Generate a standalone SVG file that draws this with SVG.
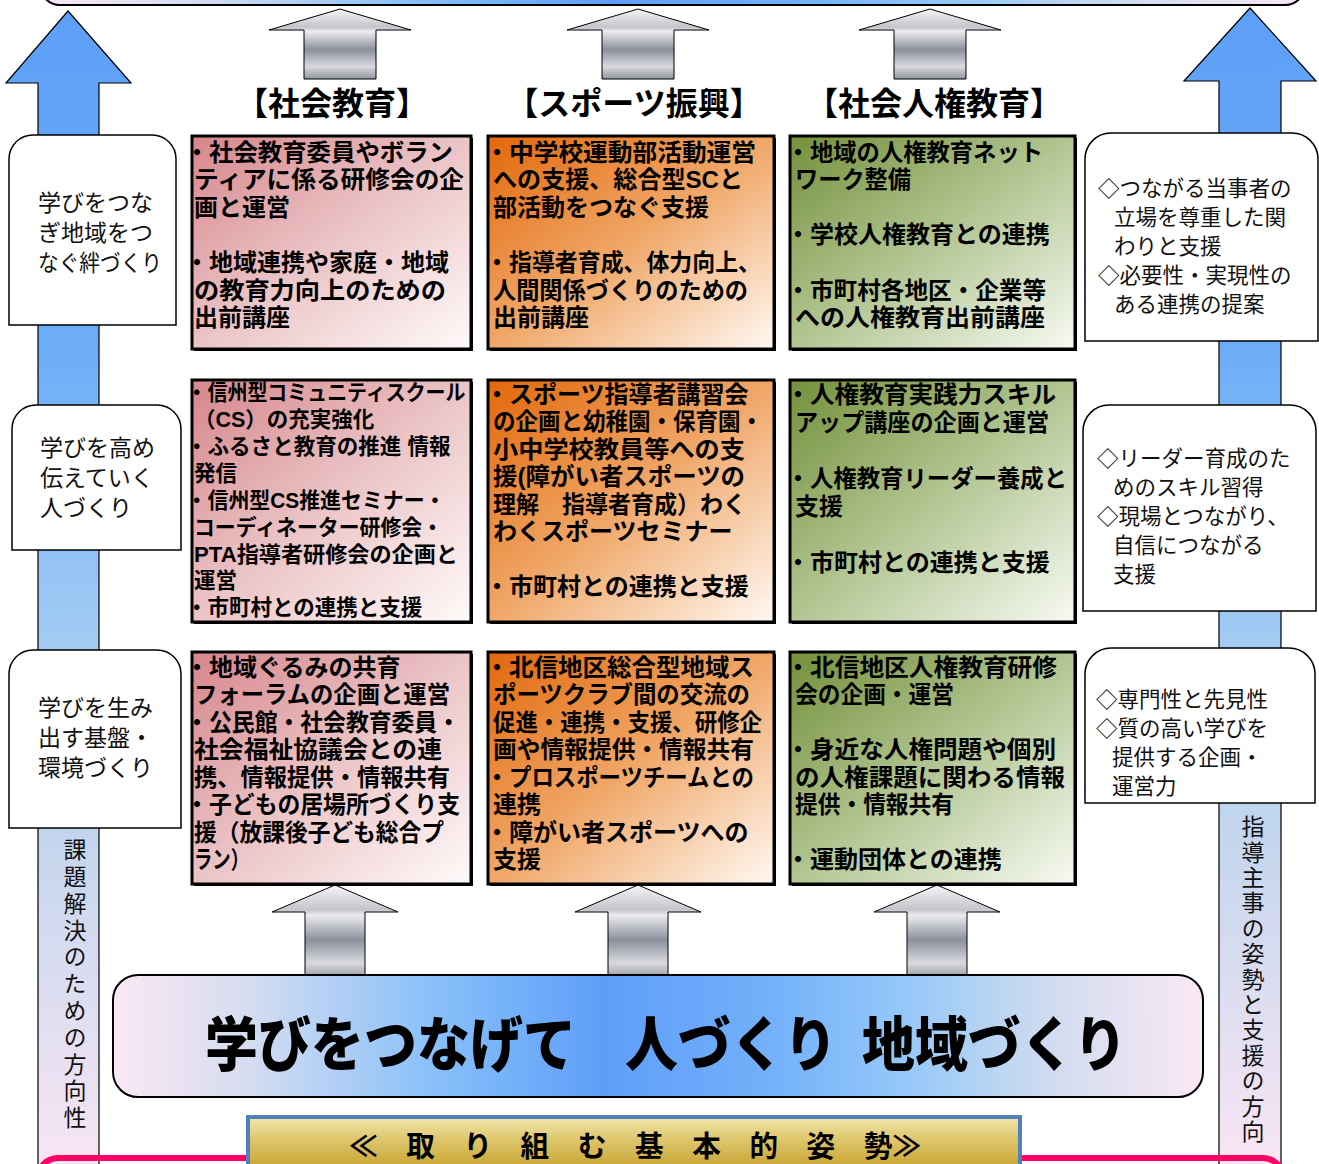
<svg xmlns="http://www.w3.org/2000/svg" width="1319" height="1164" viewBox="0 0 1319 1164">
<defs>
<style>
.t{font-family:"Liberation Sans","Noto Sans CJK JP","Noto Sans CJK SC",sans-serif;font-weight:700;font-size:24px;fill:#000}
.t2{font-family:"Liberation Sans","Noto Sans CJK JP","Noto Sans CJK SC",sans-serif;font-weight:700;font-size:21.5px;fill:#000}
.s{font-family:"Liberation Sans","Noto Sans CJK JP","Noto Sans CJK SC",sans-serif;font-weight:400;font-size:23px;fill:#111}
.r{font-family:"Liberation Sans","Noto Sans CJK JP","Noto Sans CJK SC",sans-serif;font-weight:400;font-size:21.5px;fill:#111}
.h{font-family:"Noto Sans CJK JP","Noto Sans CJK SC",sans-serif;font-weight:700;font-size:32px;fill:#000}
.side{fill:#fff;stroke:#000;stroke-width:1.5}
.bx{stroke:#000;stroke-width:3}
.sh{fill:#000}
.ga{stroke:#000;stroke-width:1;fill:url(#gGray)}
.ba{stroke:#000;stroke-width:1.2;fill:url(#gShaft)}
</style>
<linearGradient id="gPink" x1="0" y1="0" x2="1" y2="1">
<stop offset="0" stop-color="#d6868b"/><stop offset="0.5" stop-color="#ebc4c6"/><stop offset="1" stop-color="#fffafa"/>
</linearGradient>
<linearGradient id="gOrange" x1="0" y1="0" x2="1" y2="1">
<stop offset="0" stop-color="#e2680a"/><stop offset="0.5" stop-color="#f0a768"/><stop offset="1" stop-color="#fff9f3"/>
</linearGradient>
<linearGradient id="gGreen" x1="0" y1="0" x2="1" y2="1">
<stop offset="0" stop-color="#73903a"/><stop offset="0.5" stop-color="#b2c592"/><stop offset="1" stop-color="#f8faf3"/>
</linearGradient>
<linearGradient id="gBlueH" x1="0" y1="0" x2="1" y2="0">
<stop offset="0" stop-color="#fbe8f4"/><stop offset="0.12" stop-color="#d6ddf0"/><stop offset="0.3" stop-color="#86bffa"/><stop offset="0.45" stop-color="#5e9ef8"/><stop offset="0.6" stop-color="#72b0fa"/><stop offset="0.72" stop-color="#92c7f9"/><stop offset="0.86" stop-color="#d0dcef"/><stop offset="1" stop-color="#fbe8f4"/>
</linearGradient>
<linearGradient id="gShaft" gradientUnits="userSpaceOnUse" x1="0" y1="8" x2="0" y2="1164">
<stop offset="0" stop-color="#5d9ff7"/><stop offset="0.3" stop-color="#6eaef8"/><stop offset="0.55" stop-color="#a3cbf3"/><stop offset="0.72" stop-color="#c4d6ee"/><stop offset="0.88" stop-color="#e2dff1"/><stop offset="1" stop-color="#f8e5f3"/>
</linearGradient>
<linearGradient id="gGray" x1="0" y1="0" x2="0" y2="1">
<stop offset="0" stop-color="#f6f6f8"/><stop offset="0.26" stop-color="#c4c5cb"/><stop offset="0.32" stop-color="#ececef"/><stop offset="0.58" stop-color="#8b909c"/><stop offset="0.82" stop-color="#d9dadf"/><stop offset="1" stop-color="#92959f"/>
</linearGradient>
<linearGradient id="gGold" x1="0" y1="0" x2="0" y2="1">
<stop offset="0" stop-color="#f2e6b0"/><stop offset="0.3" stop-color="#e0c870"/><stop offset="0.7" stop-color="#c9a636"/><stop offset="1" stop-color="#d8bc55"/>
</linearGradient>
</defs>
<rect width="1319" height="1164" fill="#fff"/>

<g id="top-box">
<rect x="40" y="-60" width="1265" height="65" rx="20" fill="url(#gBlueH)" stroke="#000" stroke-width="2"/>
</g>

<g id="connectors">
<path class="ba" d="M68,11 L131,83 L99,83 L99,1170 L38,1170 L38,83 L6,83 Z"/>
<path class="ba" d="M1250,8 L1316,81 L1281,81 L1281,1170 L1219,1170 L1219,81 L1184,81 Z"/>
<path class="ga" d="M340,9 L411,30 L376,30 L376,79 L304,79 L304,30 L269,30 Z"/>
<path class="ga" d="M638,9 L709,30 L674,30 L674,79 L602,79 L602,30 L567,30 Z"/>
<path class="ga" d="M930,9 L1001,30 L966,30 L966,79 L894,79 L894,30 L859,30 Z"/>
<path class="ga" d="M335,885 L398,912 L365,912 L365,980 L305,980 L305,912 L272,912 Z"/>
<path class="ga" d="M638,885 L701,912 L668,912 L668,980 L608,980 L608,912 L575,912 Z"/>
<path class="ga" d="M937,885 L1000,912 L967,912 L967,980 L907,980 L907,912 L874,912 Z"/>
</g>

<g id="bottom-frame">
<rect x="38" y="1158" width="1245" height="40" rx="20" fill="none" stroke="#ff0066" stroke-width="6"/>
</g>

<g id="left-axis-label">
<text class="s" x="73" y="838" style="writing-mode:vertical-rl" letter-spacing="3.8">課題解決のための方向性</text>
</g>
<g id="right-axis-label">
<text class="s" x="1251" y="815" style="writing-mode:vertical-rl" letter-spacing="2.4">指導主事の姿勢と支援の方向</text>
</g>

<g id="hdr-1"><text class="h" x="332" y="115" text-anchor="middle">【社会教育】</text></g>
<g id="hdr-2"><text class="h" x="634" y="115" text-anchor="middle">【スポーツ振興】</text></g>
<g id="hdr-3"><text class="h" x="934" y="115" text-anchor="middle">【社会人権教育】</text></g>

<g id="left-1">
<path class="side" d="M9,325 V159 A24,24 0 0 1 33,135 H152 A24,24 0 0 1 176,159 V325 Z"/>
<text class="s"><tspan x="38" y="211">学びをつな</tspan><tspan x="38" y="241">ぎ地域をつ</tspan><tspan x="38" y="271" textLength="124" lengthAdjust="spacingAndGlyphs">なぐ絆づくり</tspan></text>
</g>
<g id="left-2">
<path class="side" d="M12,550 V429 A24,24 0 0 1 36,405 H157 A24,24 0 0 1 181,429 V550 Z"/>
<text class="s"><tspan x="40" y="456">学びを高め</tspan><tspan x="40" y="486">伝えていく</tspan><tspan x="40" y="516">人づくり</tspan></text>
</g>
<g id="left-3">
<path class="side" d="M9,828 V674 A24,24 0 0 1 33,650 H157 A24,24 0 0 1 181,674 V828 Z"/>
<text class="s"><tspan x="38" y="716">学びを生み</tspan><tspan x="38" y="746">出す基盤・</tspan><tspan x="38" y="776">環境づくり</tspan></text>
</g>

<g id="right-1">
<path class="side" d="M1085,341 V159 A26,26 0 0 1 1111,133 H1292 A26,26 0 0 1 1318,159 V341 Z"/>
<text class="r"><tspan x="1098" y="196">◇つながる当事者の</tspan><tspan x="1114" y="225">立場を尊重した関</tspan><tspan x="1114" y="254">わりと支援</tspan><tspan x="1098" y="283">◇必要性・実現性の</tspan><tspan x="1114" y="312">ある連携の提案</tspan></text>
</g>
<g id="right-2">
<path class="side" d="M1083,611 V431 A26,26 0 0 1 1109,405 H1290 A26,26 0 0 1 1316,431 V611 Z"/>
<text class="r"><tspan x="1097" y="466">◇リーダー育成のた</tspan><tspan x="1113" y="495">めのスキル習得</tspan><tspan x="1097" y="524">◇現場とつながり、</tspan><tspan x="1113" y="553">自信につながる</tspan><tspan x="1113" y="582">支援</tspan></text>
</g>
<g id="right-3">
<path class="side" d="M1085,803 V674 A26,26 0 0 1 1111,648 H1289 A26,26 0 0 1 1315,674 V803 Z"/>
<text class="r"><tspan x="1096" y="707">◇専門性と先見性</tspan><tspan x="1096" y="736">◇質の高い学びを</tspan><tspan x="1112" y="765">提供する企画・</tspan><tspan x="1112" y="794">運営力</tspan></text>
</g>

<g id="box-r1c1">
<rect class="sh" x="194" y="138" width="279" height="213"/>
<rect class="bx" x="192" y="136" width="279" height="213" fill="url(#gPink)"/>
<text class="t"><tspan x="185" y="160.5">・</tspan><tspan x="209" textLength="244" lengthAdjust="spacingAndGlyphs">社会教育委員やボラン</tspan><tspan x="194" y="188" textLength="270" lengthAdjust="spacingAndGlyphs">ティアに係る研修会の企</tspan><tspan x="194" y="215.5">画と運営</tspan><tspan x="185" y="271">・</tspan><tspan x="209">地域連携や家庭・地域</tspan><tspan x="194" y="298.5" textLength="252" lengthAdjust="spacingAndGlyphs">の教育力向上のための</tspan><tspan x="194" y="326">出前講座</tspan></text>
</g>
<g id="box-r1c2">
<rect class="sh" x="490" y="138" width="286" height="213"/>
<rect class="bx" x="488" y="136" width="286" height="213" fill="url(#gOrange)"/>
<text class="t"><tspan x="485" y="160.5">・</tspan><tspan x="509" textLength="247" lengthAdjust="spacingAndGlyphs">中学校運動部活動運営</tspan><tspan x="493" y="188" textLength="250" lengthAdjust="spacingAndGlyphs">への支援、総合型SCと</tspan><tspan x="493" y="215.5">部活動をつなぐ支援</tspan><tspan x="485" y="271">・</tspan><tspan x="509" textLength="252" lengthAdjust="spacingAndGlyphs">指導者育成、体力向上、</tspan><tspan x="493" y="298.5" textLength="255" lengthAdjust="spacingAndGlyphs">人間関係づくりのための</tspan><tspan x="493" y="326">出前講座</tspan></text>
</g>
<g id="box-r1c3">
<rect class="sh" x="792" y="138" width="285" height="213"/>
<rect class="bx" x="790" y="136" width="285" height="213" fill="url(#gGreen)"/>
<text class="t"><tspan x="786" y="160.5">・</tspan><tspan x="810" textLength="233" lengthAdjust="spacingAndGlyphs">地域の人権教育ネット</tspan><tspan x="795" y="188" textLength="116" lengthAdjust="spacingAndGlyphs">ワーク整備</tspan><tspan x="786" y="243">・</tspan><tspan x="810">学校人権教育との連携</tspan><tspan x="786" y="298.5">・</tspan><tspan x="810" textLength="236" lengthAdjust="spacingAndGlyphs">市町村各地区・企業等</tspan><tspan x="795" y="326" textLength="250" lengthAdjust="spacingAndGlyphs">への人権教育出前講座</tspan></text>
</g>

<g id="box-r2c1">
<rect class="sh" x="194" y="382" width="279" height="242"/>
<rect class="bx" x="192" y="380" width="279" height="242" fill="url(#gPink)"/>
<text class="t2"><tspan x="186" y="400">・</tspan><tspan x="207.5" textLength="258" lengthAdjust="spacingAndGlyphs">信州型コミュニティスクール</tspan><tspan x="194" y="427">（CS）の充実強化</tspan><tspan x="186" y="454">・</tspan><tspan x="207.5" textLength="243" lengthAdjust="spacingAndGlyphs">ふるさと教育の推進 情報</tspan><tspan x="194" y="481">発信</tspan><tspan x="186" y="508">・</tspan><tspan x="207.5" textLength="238" lengthAdjust="spacingAndGlyphs">信州型CS推進セミナー・</tspan><tspan x="194" y="535" textLength="249" lengthAdjust="spacingAndGlyphs">コーディネーター研修会・</tspan><tspan x="194" y="562" textLength="264" lengthAdjust="spacingAndGlyphs">PTA指導者研修会の企画と</tspan><tspan x="194" y="588">運営</tspan><tspan x="186" y="615">・</tspan><tspan x="207.5">市町村との連携と支援</tspan></text>
</g>
<g id="box-r2c2">
<rect class="sh" x="490" y="382" width="286" height="242"/>
<rect class="bx" x="488" y="380" width="286" height="242" fill="url(#gOrange)"/>
<text class="t"><tspan x="485" y="402.5">・</tspan><tspan x="509">スポーツ指導者講習会</tspan><tspan x="493" y="430" textLength="270" lengthAdjust="spacingAndGlyphs">の企画と幼稚園・保育園・</tspan><tspan x="493" y="457.5" textLength="252" lengthAdjust="spacingAndGlyphs">小中学校教員等への支</tspan><tspan x="493" y="485" textLength="252" lengthAdjust="spacingAndGlyphs">援(障がい者スポーツの</tspan><tspan x="493" y="512.5" textLength="253" lengthAdjust="spacingAndGlyphs">理解　指導者育成）わく</tspan><tspan x="493" y="540">わくスポーツセミナー</tspan><tspan x="485" y="595">・</tspan><tspan x="509">市町村との連携と支援</tspan></text>
</g>
<g id="box-r2c3">
<rect class="sh" x="792" y="382" width="285" height="242"/>
<rect class="bx" x="790" y="380" width="285" height="242" fill="url(#gGreen)"/>
<text class="t"><tspan x="786" y="402.5">・</tspan><tspan x="810" textLength="246" lengthAdjust="spacingAndGlyphs">人権教育実践力スキル</tspan><tspan x="795" y="430.5" textLength="254" lengthAdjust="spacingAndGlyphs">アップ講座の企画と運営</tspan><tspan x="786" y="486.5">・</tspan><tspan x="810" textLength="257" lengthAdjust="spacingAndGlyphs">人権教育リーダー養成と</tspan><tspan x="795" y="514.5">支援</tspan><tspan x="786" y="570.5">・</tspan><tspan x="810">市町村との連携と支援</tspan></text>
</g>

<g id="box-r3c1">
<rect class="sh" x="194" y="654" width="279" height="232"/>
<rect class="bx" x="192" y="652" width="279" height="232" fill="url(#gPink)"/>
<text class="t"><tspan x="185" y="675.5">・</tspan><tspan x="209">地域ぐるみの共育</tspan><tspan x="194" y="703" textLength="256" lengthAdjust="spacingAndGlyphs">フォーラムの企画と運営</tspan><tspan x="185" y="730.5">・</tspan><tspan x="209" textLength="251" lengthAdjust="spacingAndGlyphs">公民館・社会教育委員・</tspan><tspan x="194" y="758" textLength="248" lengthAdjust="spacingAndGlyphs">社会福祉協議会との連</tspan><tspan x="194" y="785.5" textLength="256" lengthAdjust="spacingAndGlyphs">携、情報提供・情報共有</tspan><tspan x="185" y="813">・</tspan><tspan x="209" textLength="251" lengthAdjust="spacingAndGlyphs">子どもの居場所づくり支</tspan><tspan x="194" y="840.5" textLength="250" lengthAdjust="spacingAndGlyphs">援（放課後子ども総合プ</tspan><tspan x="194" y="868" textLength="55" lengthAdjust="spacingAndGlyphs">ラン）</tspan></text>
</g>
<g id="box-r3c2">
<rect class="sh" x="490" y="654" width="286" height="232"/>
<rect class="bx" x="488" y="652" width="286" height="232" fill="url(#gOrange)"/>
<text class="t"><tspan x="485" y="675.5">・</tspan><tspan x="509" textLength="245" lengthAdjust="spacingAndGlyphs">北信地区総合型地域ス</tspan><tspan x="493" y="703" textLength="257" lengthAdjust="spacingAndGlyphs">ポーツクラブ間の交流の</tspan><tspan x="493" y="730.5" textLength="269" lengthAdjust="spacingAndGlyphs">促進・連携・支援、研修企</tspan><tspan x="493" y="758" textLength="261" lengthAdjust="spacingAndGlyphs">画や情報提供・情報共有</tspan><tspan x="485" y="785.5">・</tspan><tspan x="509" textLength="245" lengthAdjust="spacingAndGlyphs">プロスポーツチームとの</tspan><tspan x="493" y="813">連携</tspan><tspan x="485" y="840.5">・</tspan><tspan x="509">障がい者スポーツへの</tspan><tspan x="493" y="868">支援</tspan></text>
</g>
<g id="box-r3c3">
<rect class="sh" x="792" y="654" width="285" height="232"/>
<rect class="bx" x="790" y="652" width="285" height="232" fill="url(#gGreen)"/>
<text class="t"><tspan x="786" y="675.5">・</tspan><tspan x="810" textLength="247" lengthAdjust="spacingAndGlyphs">北信地区人権教育研修</tspan><tspan x="795" y="703" textLength="159" lengthAdjust="spacingAndGlyphs">会の企画・運営</tspan><tspan x="786" y="758">・</tspan><tspan x="810" textLength="246" lengthAdjust="spacingAndGlyphs">身近な人権問題や個別</tspan><tspan x="795" y="785.5" textLength="270" lengthAdjust="spacingAndGlyphs">の人権課題に関わる情報</tspan><tspan x="795" y="813" textLength="159" lengthAdjust="spacingAndGlyphs">提供・情報共有</tspan><tspan x="786" y="868">・</tspan><tspan x="810">運動団体との連携</tspan></text>
</g>

<g id="slogan">
<rect x="113" y="975" width="1090" height="122" rx="25" fill="url(#gBlueH)" stroke="#000" stroke-width="2"/>
<text transform="translate(0,1066) scale(1,1.12)" x="205" y="0" dx="0 0 0 0 0 0 0 0 -4 0 0 0 0 -28" font-family="'Noto Sans CJK JP','Noto Sans CJK SC',sans-serif" font-weight="900" font-size="53" fill="#000">学びをつなげて　人づくり　地域づくり</text>
</g>

<g id="stance-banner">
<rect x="248" y="1117" width="772" height="70" fill="url(#gGold)" stroke="#4f81bd" stroke-width="4"/>
<text x="349" y="1157" font-family="'Noto Sans CJK JP','Noto Sans CJK SC',sans-serif" font-weight="700" font-size="29" textLength="572" lengthAdjust="spacingAndGlyphs" fill="#000">≪　取　り　組　む　基　本　的　姿　勢≫</text>
</g>
</svg>
